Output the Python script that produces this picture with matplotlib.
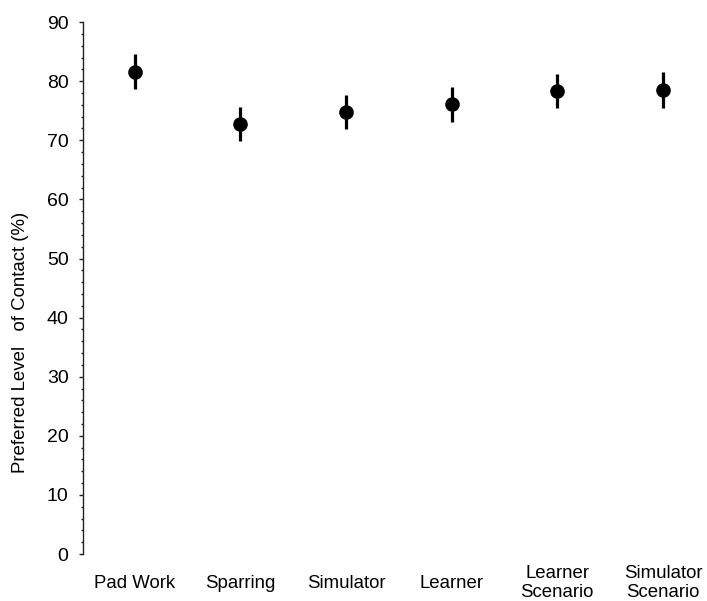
import matplotlib
matplotlib.use("Agg")
import matplotlib.pyplot as plt
from matplotlib.ticker import MultipleLocator

plt.rcParams['font.family'] = ['Liberation Sans', 'DejaVu Sans']

categories = ["Pad Work", "Sparring", "Simulator", "Learner",
              "Learner\nScenario", "Simulator\nScenario"]
means = [81.6, 72.7, 74.8, 76.1, 78.3, 78.5]
errors = [3.0, 2.9, 2.9, 3.0, 2.9, 3.0]

fig = plt.figure(figsize=(7.07, 6.01), dpi=100)
ax = fig.add_axes([0.1174, 0.0782, 0.88, 0.885])

x = list(range(len(categories)))
ax.errorbar(x, means, yerr=errors, fmt='o', color='black', ecolor='black',
            markersize=9.5, elinewidth=2.3, capsize=0)

ax.set_xlim(-0.49, 5.4)
ax.set_ylim(0, 90)
ax.yaxis.set_major_locator(MultipleLocator(10))
ax.yaxis.set_minor_locator(MultipleLocator(2))

for s in ['top', 'right', 'bottom']:
    ax.spines[s].set_visible(False)
ax.spines['left'].set_linewidth(1.0)
ax.spines['left'].set_color('#222222')

ax.tick_params(axis='y', which='major', length=2.9, width=1.0, pad=7.5,
               labelsize=14, colors='#222222', labelcolor='black')
ax.tick_params(axis='y', which='minor', length=1.7, width=1.0, colors='#222222')

ax.set_xticks(x)
ax.set_xticklabels(categories)
ax.tick_params(axis='x', length=0, pad=21, labelsize=13.4)
for lbl in ax.get_xticklabels():
    lbl.set_va('center')
    lbl.set_linespacing(1.15)

ylab = ax.set_ylabel("Preferred Level   of Contact (%)", fontsize=13.4)
ax.yaxis.set_label_coords(-0.1, 0.397)
ylab.set_va('center')

fig.savefig("out.png", dpi=100)
